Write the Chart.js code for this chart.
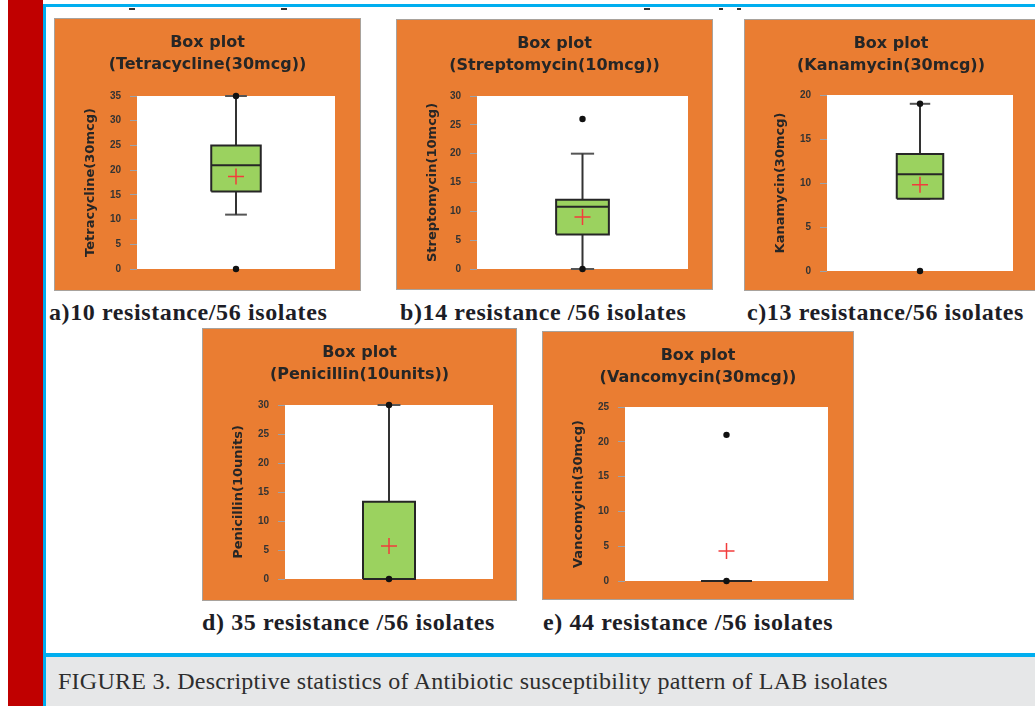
<!DOCTYPE html>
<html><head><meta charset="utf-8">
<script src="https://cdn.jsdelivr.net/npm/chart.js@4.4.1/dist/chart.umd.min.js"></script>
<style>
html,body{margin:0;padding:0;background:#fff;width:1035px;height:706px;overflow:hidden;position:relative}
.abs{position:absolute}
.panel{position:absolute;background:#ea7d32;box-shadow:0 0 0 1px #a8a29c;overflow:hidden}
.panel canvas{display:block}
.cap{position:absolute;font:bold 24px 'Liberation Serif',serif;letter-spacing:0.6px;color:#1d1d26;white-space:nowrap;line-height:24px}
.dash{position:absolute;height:2px;width:6px;background:#333;top:8px}
</style></head><body>
<div class="abs" style="left:8px;top:0;width:35px;height:706px;background:#c00000"></div>
<div class="abs" style="left:43px;top:4px;width:992px;height:3px;background:#00aeef"></div>
<div class="abs" style="left:43px;top:4px;width:3px;height:702px;background:#00aeef"></div>
<div class="abs" style="left:43px;top:653px;width:992px;height:4px;background:#00aeef"></div>
<div class="abs" style="left:46px;top:657px;width:989px;height:49px;background:#e6e7e8"></div>
<div class="abs" id="figcap" style="left:58px;top:669px;font:24px/24px 'Liberation Serif',serif;letter-spacing:0.25px;color:#2e2e2e;white-space:nowrap">FIGURE 3. Descriptive statistics of Antibiotic susceptibility pattern of LAB isolates</div>
<div class="dash" style="left:129px"></div>
<div class="dash" style="left:281px"></div>
<div class="dash" style="left:644px"></div>
<div class="dash" style="left:719px;width:4px"></div>
<div class="dash" style="left:737px;width:4px"></div>
<div id="root"></div>
<script>
// ---- data ----
const drugs = ['Tetracycline(30mcg)', 'Streptomycin(10mcg)', 'Kanamycin(30mcg)', 'Penicillin(10units)', 'Vancomycin(30mcg)'];
const captions = ['a)10 resistance/56 isolates', 'b)14 resistance /56 isolates', 'c)13 resistance/56 isolates', 'd) 35 resistance /56 isolates', 'e) 44 resistance /56 isolates'];
const minimum     = [0, 0, 0, 0, 0];
const whiskerLow  = [11, 0, 8.2, 0, 0];
const q1          = [15.7, 6, 8.2, 0, 0];
const median      = [21, 10.8, 11, 0, 0];
const q3          = [25, 12, 13.3, 13.3, 0];
const whiskerHigh = [35, 20, 19, 30, 0];
const maximum     = [35, 26, 19, 30, 21];
const mean        = [18.7, 9.0, 9.8, 5.7, 4.3];
const axisMax     = [35, 30, 20, 30, 25];
const tickStep    = [5, 5, 5, 5, 5];

// ---- layout (pixels) ----
const panels = [
  {x:55,  y:19,  w:305, h:271, px:137, py:96,  pw:198, ph:173, cx:49,  cy:312},
  {x:397, y:20,  w:315, h:269, px:477, py:96,  pw:211, ph:173, cx:400, cy:312},
  {x:745, y:20,  w:292, h:270, px:827, py:95,  pw:186, ph:176, cx:747, cy:312},
  {x:203, y:329, w:313, h:271, px:285, py:405, pw:208, ph:174, cx:202, cy:622},
  {x:543, y:332, w:310, h:267, px:625, py:407, pw:203, ph:174, cx:543, cy:622}
];
const CENTER = 0.5, BOX_L = 0.375, BOX_R = 0.625, CAP_L = 0.445, CAP_R = 0.555;

const plotBg = {
  id: 'plotBg',
  beforeDraw(chart) {
    const {ctx, chartArea: a} = chart;
    ctx.save(); ctx.fillStyle = '#ffffff';
    ctx.fillRect(a.left, a.top, a.width, a.height);
    ctx.restore();
  }
};

const root = document.getElementById('root');
const ink = '#262626';
const seg = (pts, color, width, order) => ({data: pts, showLine: true, borderColor: color, borderWidth: width, pointRadius: 0, fill: false, order, clip: false});

panels.forEach((p, i) => {
  const div = document.createElement('div');
  div.className = 'panel';
  div.style.left = p.x + 'px'; div.style.top = p.y + 'px';
  div.style.width = p.w + 'px'; div.style.height = p.h + 'px';
  const cv = document.createElement('canvas');
  cv.width = p.w; cv.height = p.h;
  cv.style.width = p.w + 'px'; cv.style.height = p.h + 'px';
  div.appendChild(cv); root.appendChild(div);

  const cap = document.createElement('div');
  cap.className = 'cap';
  cap.style.left = p.cx + 'px'; cap.style.top = (p.cy - 12) + 'px';
  cap.textContent = captions[i];
  root.appendChild(cap);

  const yAxisWidth = p.px - p.x;
  const topInset = p.py - p.y;
  const rightInset = p.x + p.w - (p.px + p.pw);
  const bottomPad = p.y + p.h - (p.py + p.ph);

  const datasets = [
    {label: 'min / max', data: [{x: CENTER, y: minimum[i]}, {x: CENTER, y: maximum[i]}], showLine: false,
     pointRadius: 3.2, pointBackgroundColor: '#111', pointBorderColor: '#111', pointBorderWidth: 0, order: 0, clip: false},
    {label: 'mean', data: [{x: CENTER, y: mean[i]}], showLine: false, pointStyle: 'cross',
     pointRadius: 8, pointBorderColor: '#f23c3c', pointBorderWidth: 1.5, order: 1, clip: false},
    Object.assign(seg([{x: BOX_L, y: median[i]}, {x: BOX_R, y: median[i]}], ink, 2, 2), {label: 'median'}),
    {label: 'box', data: [{x: BOX_L, y: q1[i]}, {x: BOX_R, y: q1[i]}, {x: BOX_R, y: q3[i]}, {x: BOX_L, y: q3[i]}, {x: BOX_L, y: q1[i]}],
     showLine: true, fill: 'shape', backgroundColor: '#9bd25f', borderColor: ink, borderWidth: 2, pointRadius: 0, order: 3, clip: false},
    Object.assign(seg([{x: CENTER, y: q3[i]}, {x: CENTER, y: whiskerHigh[i]}], '#333', 2, 4), {label: 'upper whisker'}),
    Object.assign(seg([{x: CAP_L, y: whiskerHigh[i]}, {x: CAP_R, y: whiskerHigh[i]}], '#555', 2, 4), {label: 'upper cap'}),
    Object.assign(seg([{x: CENTER, y: q1[i]}, {x: CENTER, y: whiskerLow[i]}], '#333', 2, 4), {label: 'lower whisker'}),
    Object.assign(seg([{x: CAP_L, y: whiskerLow[i]}, {x: CAP_R, y: whiskerLow[i]}], '#555', 2, 4), {label: 'lower cap'})
  ];

  new Chart(cv, {
    type: 'scatter',
    data: {datasets},
    options: {
      responsive: false, animation: false, devicePixelRatio: 1,
      layout: {padding: {left: 0, top: 0, right: 0, bottom: bottomPad}},
      plugins: {
        legend: {display: false}, tooltip: {enabled: false},
        title: {display: true, text: ['Box plot', '(' + drugs[i] + ')'], color: '#262626',
                font: {family: 'DejaVu Sans', size: 16, weight: 'bold', lineHeight: '22px'},
                padding: {top: 13, bottom: topInset - 57}}
      },
      scales: {
        x: {type: 'linear', min: 0, max: 1, display: false},
        y: {type: 'linear', position: 'left', min: 0, max: axisMax[i],
            afterFit: s => { s.width = yAxisWidth; },
            ticks: {stepSize: tickStep[i], padding: 9, color: '#333',
                    font: {family: 'Liberation Sans', size: 10, weight: 'bold'}},
            grid: {drawOnChartArea: false, drawTicks: true, tickLength: 7, color: '#9aa3ad', lineWidth: 1},
            border: {display: false},
            title: {display: true, text: drugs[i], color: '#262626',
                    font: {family: 'DejaVu Sans', size: 13, weight: 'bold'}, padding: {top: 28, bottom: 0}}
        },
        yRightSpace: {type: 'linear', position: 'right', min: 0, max: axisMax[i],
            afterFit: s => { s.width = rightInset; },
            ticks: {display: false}, grid: {display: false}, border: {display: false}
        }
      }
    },
    plugins: [plotBg]
  });
});
</script>
</body></html>
